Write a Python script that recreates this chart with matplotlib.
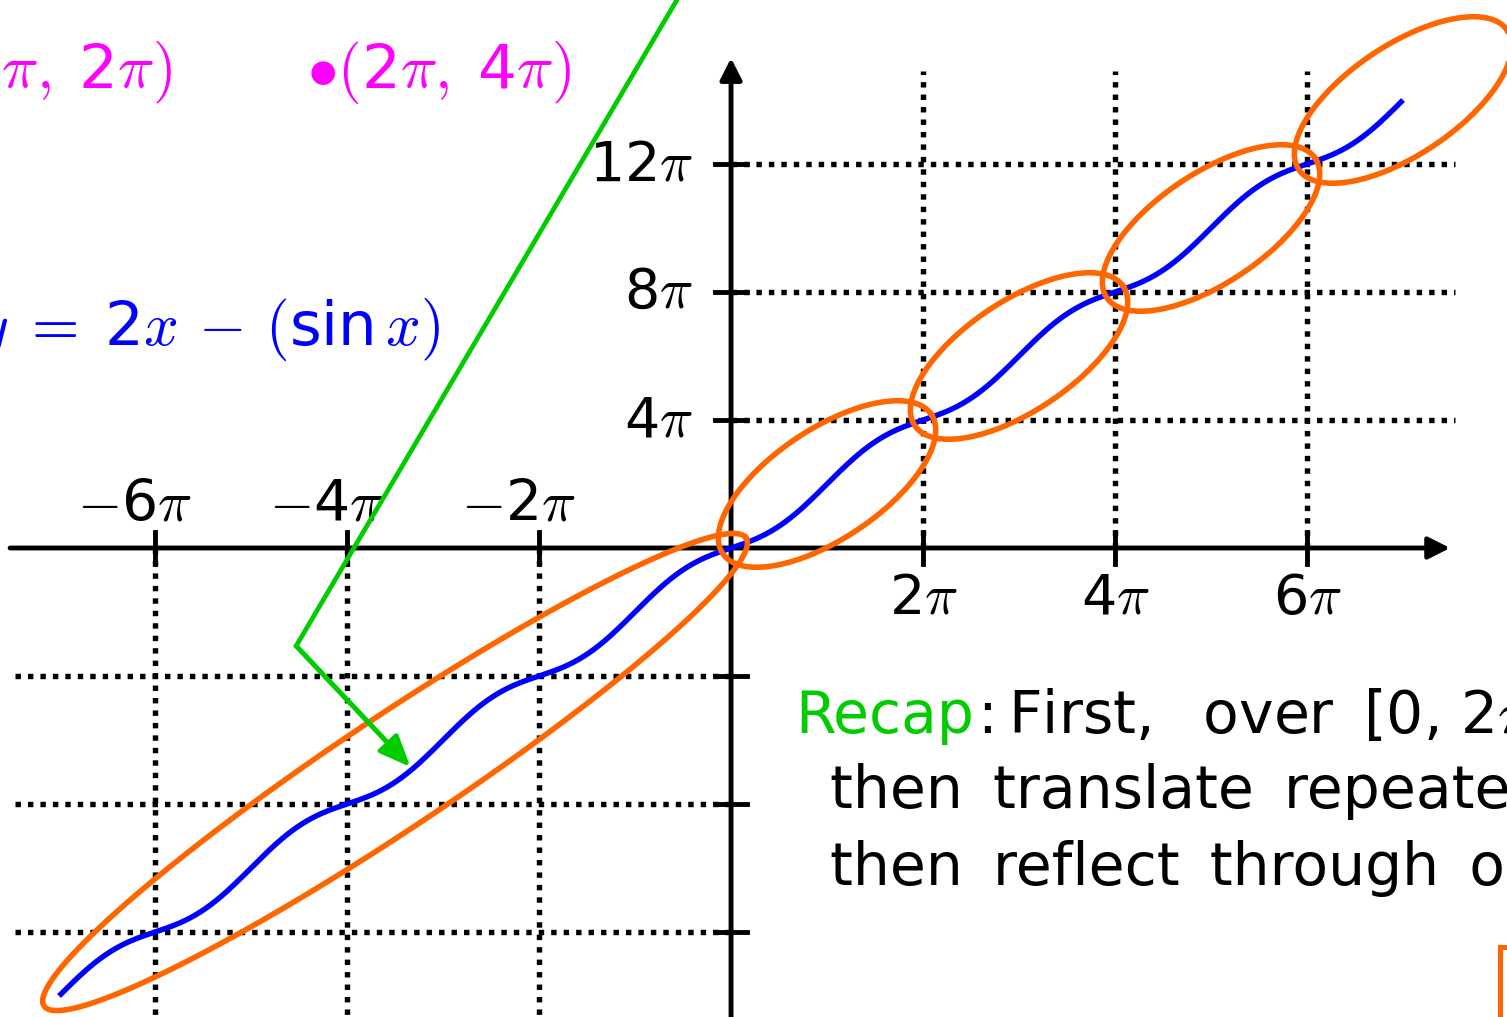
import numpy as np
import matplotlib.pyplot as plt
from matplotlib.patches import Rectangle

plt.rcParams['mathtext.fontset'] = 'cm'

# all coordinates are in units of pi
x_start, x_end = -7, 7          # domain of y = 2x - sin x
pos_xticks = [2, 4, 6]
pos_xlabels = [r'2$\pi$', r'4$\pi$', r'6$\pi$']
neg_xticks = [-6, -4, -2]
neg_xlabels = [r'$-$6$\pi$', r'$-$4$\pi$', r'$-$2$\pi$']
pos_yticks = [4, 8, 12]
pos_ylabels = [r'4$\pi$', r'8$\pi$', r'12$\pi$']
neg_yticks = [-4, -8, -12]
loop_spans = [(-7, 0), (0, 2), (2, 4), (4, 6), (6, 8)]
green_x = [-0.53, -4.53, -3.34]
green_y = [17.3, -3.06, -6.84]

BLUE = '#0000ff'
ORANGE = '#ff6600'
GREEN = '#00cc00'
MAGENTA = '#ff00ff'

fig = plt.figure(figsize=(15.07, 10.17), dpi=100)
ax = fig.add_axes([0, 0, 1, 1])
ax.set_xlim(-7.615, 8.083)
ax.set_ylim(-14.656, 17.125)
ax.axis('off')

dot = dict(color='k', lw=3.9, linestyle=(0, (1, 1.3)), dash_capstyle='butt', zorder=1)

# dotted guide lines
for t in pos_xticks:
    ax.plot([t, t], [0, 14.9], **dot)
for t in pos_yticks:
    ax.plot([0, 7.54], [t, t], **dot)
for t in neg_xticks:
    ax.plot([t, t], [0, -15], **dot)
for t in neg_yticks:
    ax.plot([-7.46, 0], [t, t], **dot)

# axes with arrows
arrow_kw = dict(arrowstyle='-|>,head_length=0.65,head_width=0.33', color='k', lw=3.5,
                shrinkA=0, shrinkB=0, mutation_scale=20)
ax.annotate('', xy=(7.49, 0), xytext=(-7.51, 0), arrowprops=arrow_kw, zorder=2)
ax.annotate('', xy=(0, 15.31), xytext=(0, -15), arrowprops=arrow_kw, zorder=2)

# ticks
for t in pos_xticks + neg_xticks:
    ax.plot([t, t], [-0.5, 0.5], color='k', lw=3.5, zorder=2)
for t in pos_yticks + neg_yticks:
    ax.plot([-0.167, 0.167], [t, t], color='k', lw=3.5, zorder=2)

# tick labels
for t, lab in zip(pos_xticks, pos_xlabels):
    ax.text(t, -2.06, lab, ha='center', va='baseline', fontsize=40)
for t, lab in zip(neg_xticks, neg_xlabels):
    ax.text(t - 0.22, 0.875, lab, ha='center', va='baseline', fontsize=41)
for t, lab in zip(pos_yticks, pos_ylabels):
    ax.text(-0.396, t - 0.5, lab, ha='right', va='baseline', fontsize=40)

# the curve
xs = np.linspace(x_start, x_end, 800)
ys = 2 * xs - np.sin(np.pi * xs) / np.pi
ax.plot(xs, ys, color=BLUE, lw=3.9, zorder=3, solid_capstyle='butt')


def loop(x0, x1, pad, half_w):
    p0 = ax.transData.transform((x0, 2 * x0))
    p1 = ax.transData.transform((x1, 2 * x1))
    c = (p0 + p1) / 2
    d = p1 - p0
    u = d / np.hypot(*d)
    n = np.array([-u[1], u[0]])
    a = np.hypot(*d) / 2 + pad
    t = np.linspace(0, 2 * np.pi, 300)
    pts = c + np.outer(np.cos(t), u * a) + np.outer(np.sin(t), n * half_w)
    pts = ax.transData.inverted().transform(pts)
    ax.plot(pts[:, 0], pts[:, 1], color=ORANGE, lw=4.0, zorder=4)


for i, (a, b) in enumerate(loop_spans):
    if i == 0:
        loop(a, b, 18, 56)
    else:
        loop(a, b, 10, 55)

# green pointer
frac = 0.85
ex = green_x[1] + frac * (green_x[2] - green_x[1])
ey = green_y[1] + frac * (green_y[2] - green_y[1])
ax.plot([green_x[0], green_x[1], ex], [green_y[0], green_y[1], ey],
        color=GREEN, lw=3.4, zorder=5, solid_joinstyle='miter')
ax.annotate('', xy=(green_x[2], green_y[2]), xytext=(green_x[1], green_y[1]),
            arrowprops=dict(arrowstyle='-|>,head_length=0.95,head_width=0.4',
                            color=GREEN, lw=3.4, shrinkA=0, shrinkB=0,
                            mutation_scale=20), zorder=5)

# texts
ax.text(-5.82, 14.375, r'$\bullet($$\pi$$,\;$2$\pi$$)$', color=MAGENTA, ha='right',
        va='baseline', fontsize=44)
ax.text(-4.417, 14.375, r'$\bullet($2$\pi$$,\;$4$\pi$$)$', color=MAGENTA, ha='left',
        va='baseline', fontsize=44)
ax.text(-3.03, 6.34, r'$y\;=\;$2$x\,-\,($sin$\,x)$', color=BLUE, ha='right',
        va='baseline', fontsize=44)

sp = ' \u2009'
ax.text(0.667, -5.78, 'Recap', color=GREEN, ha='left', va='baseline', fontsize=42)
ax.text(2.56, -5.78, ':\u2009First,' + sp + ' over' + sp + r'[0, 2$\pi$], plot',
        color='k', ha='left', va='baseline', fontsize=42)
ax.text(1.03, -8.125, sp.join(['then', 'translate', 'repeatedly']), color='k', ha='left',
        va='baseline', fontsize=42)
ax.text(1.03, -10.53, sp.join(['then', 'reflect', 'through', 'origin']), color='k',
        ha='left', va='baseline', fontsize=42)

ax.add_patch(Rectangle((8.01, -16), 2, 3.53, fill=False, edgecolor=ORANGE, lw=3.6,
                       zorder=4))

fig.savefig('out.png', dpi=100)
